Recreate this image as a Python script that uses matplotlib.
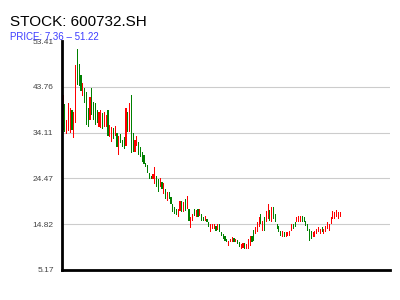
import numpy as np
import matplotlib
matplotlib.use('Agg')
import matplotlib.pyplot as plt

# Stock code and the price range shown in the subtitle
stock_code = '600732.SH'
price_min = 7.36
price_max = 51.22

# Daily open / close prices (one entry per trading day)
opens = [34.7, 40.2, 33.9, 34.5, 34.1, 38.9, 32.9, 36.2, 51.7, 48.6,
         46.3, 41.9, 43.6, 42.7, 39.4, 36.8, 43.6, 40.6, 40.4, 38.9,
         35.4, 35.0, 38.3, 35.2, 35.4, 38.9, 33.1, 32.2, 35.0, 33.3,
         34.1, 29.3, 33.9, 32.6, 33.1, 31.2, 38.5, 34.3, 42.1, 34.1,
         30.1, 31.2, 32.2, 31.0, 30.1, 29.5, 27.8, 27.2, 25.5, 24.9,
         24.3, 23.2, 24.9, 24.3, 22.6, 23.8, 21.1, 22.2, 19.7, 21.7,
         20.5, 19.0, 18.4, 18.0, 16.3, 17.5, 19.7, 17.3, 20.1, 18.0,
         18.0, 14.0, 15.5, 18.0, 16.3, 18.0, 16.5, 16.9, 16.3, 15.5,
         15.9, 15.2, 13.2, 13.8, 13.8, 14.4, 13.6, 14.8, 13.2, 12.7,
         12.3, 11.7, 10.2, 11.0, 11.0, 11.9, 11.0, 11.5, 11.0, 9.6,
         9.8, 10.8, 9.6, 9.6, 10.2, 12.3, 13.6, 12.7, 13.2, 14.2,
         16.9, 13.4, 16.3, 15.3, 15.9, 17.9, 15.3, 18.4, 16.9, 14.8,
         14.4, 13.4, 12.1, 13.2, 12.1, 12.3, 12.3, 13.4, 14.8, 15.2,
         15.2, 15.2, 15.2, 16.5, 16.3, 15.5, 14.8, 13.8, 13.4, 12.1,
         12.1, 12.7, 13.2, 12.7, 14.2, 12.7, 13.2, 13.8, 13.4, 14.8,
         15.9, 15.9, 16.3, 15.9, 16.3]
closes = [42.1, 34.3, 36.8, 40.4, 39.4, 34.7, 38.5, 48.4, 44.2, 44.0,
          42.9, 44.6, 40.4, 35.8, 35.2, 41.7, 37.9, 36.8, 35.8, 36.2,
          38.5, 38.9, 34.8, 38.5, 37.9, 33.3, 35.8, 35.2, 32.7, 35.6,
          31.0, 33.3, 32.0, 31.0, 30.6, 39.4, 34.3, 40.4, 29.9, 30.1,
          32.6, 33.3, 29.5, 28.9, 28.0, 27.4, 26.8, 25.7, 24.3, 24.3,
          25.3, 26.8, 22.6, 21.5, 24.5, 22.2, 23.6, 20.1, 21.5, 20.1,
          19.0, 17.3, 16.9, 16.7, 18.0, 19.7, 17.3, 19.4, 17.5, 20.7,
          15.5, 16.3, 16.9, 16.5, 17.8, 16.3, 18.0, 15.5, 15.5, 16.5,
          15.2, 14.2, 14.8, 14.8, 14.8, 13.4, 14.8, 13.2, 12.3, 11.7,
          11.3, 11.0, 11.3, 11.7, 12.1, 11.0, 11.7, 10.6, 10.0, 10.6,
          10.8, 9.6, 10.6, 11.7, 12.3, 11.0, 11.3, 14.2, 15.3, 16.3,
          14.8, 15.5, 13.4, 17.5, 19.0, 15.5, 18.4, 15.9, 15.3, 13.8,
          13.2, 12.3, 13.4, 12.1, 13.2, 13.2, 13.4, 14.8, 13.8, 14.2,
          16.3, 16.5, 16.5, 15.2, 15.2, 14.4, 13.4, 11.3, 11.7, 13.2,
          13.4, 13.8, 14.2, 13.8, 13.2, 13.8, 14.4, 15.2, 14.8, 16.3,
          17.5, 17.3, 17.9, 17.3, 17.3]

opens = np.array(opens)
closes = np.array(closes)
days = np.arange(len(opens))

# Red when the day closed up, green when it closed down
colors = np.where(closes >= opens, 'red', 'green')

# Axis range: 5% padding around the price range
pad = (price_max - price_min) * 0.05
y_lo, y_hi = price_min - pad, price_max + pad
ticks = np.linspace(y_lo, y_hi, 6)

plt.rcParams['font.family'] = ['Liberation Sans', 'DejaVu Sans']

fig = plt.figure(figsize=(4, 3), dpi=100)
ax = fig.add_axes([0.155, 0.1, 0.82, 0.7633])

# Candle bodies as thin bars
ax.bar(days, np.abs(closes - opens), bottom=np.minimum(opens, closes),
       width=0.6, color=colors, linewidth=0)

ax.set_ylim(y_lo, y_hi)
ax.set_xlim(-0.55, 181.7)
ax.set_yticks(ticks)
ax.set_yticklabels([f'{t:.2f}' for t in ticks], fontsize=6, color='#444444')
ax.tick_params(axis='y', length=0, pad=6)
ax.set_xticks([])

# Horizontal grid lines only at the inner ticks
for t in ticks[1:-1]:
    ax.axhline(t, color='#cccccc', linewidth=0.8, zorder=0)

for side in ['top', 'right']:
    ax.spines[side].set_visible(False)
for side in ['left', 'bottom']:
    ax.spines[side].set_linewidth(2)
    ax.spines[side].set_color('black')

# Title and price range text
fig.text(0.025, 0.915, f'STOCK: {stock_code}', fontsize=11, color='black')
fig.text(0.025, 0.865, f'PRICE: {price_min:.2f} \u2013 {price_max:.2f}',
         fontsize=7, color='#3c3cff')

fig.savefig('out.png', dpi=100)
